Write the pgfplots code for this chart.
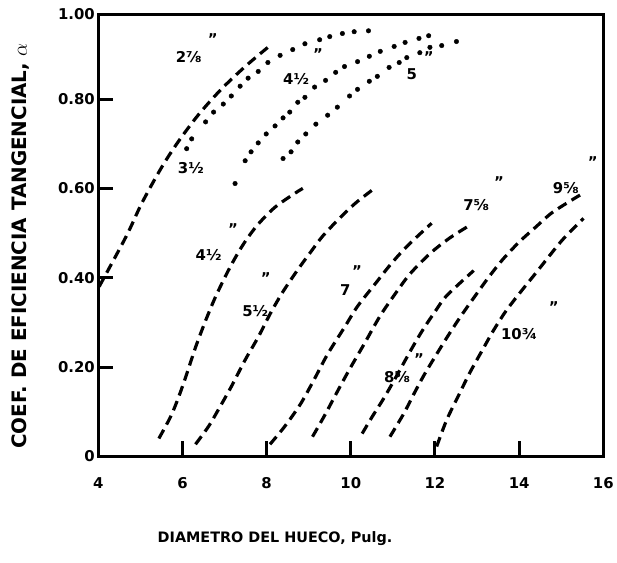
\documentclass[border=0pt]{standalone}
\usepackage{fontspec}
\setmainfont{DejaVu Sans}
\usepackage{pgfplots}
\pgfplotsset{compat=1.18}

\pgfplotsset{
  curva/.style={black, line width=3.2pt, dash pattern=on 10pt off 6pt, smooth, no marks},
  puntos/.style={black, only marks, mark=*, mark size=2.3pt},
}

\begin{document}
\begin{tikzpicture}
\begin{axis}[
  scale only axis, width=509pt, height=445.5pt,
  xmin=4, xmax=16, ymin=0, ymax=0.99,
  clip=false,
  axis line style={line width=3.5pt},
  xtick={4,6,...,16},
  ytick={0,0.2,0.4,0.6,0.8,0.99},
  yticklabels={0,0.20,0.40,0.60,0.80,1.00},
  xtick pos=bottom, ytick pos=left,
  tick align=inside,
  major tick length=15pt,
  tick style={line width=3pt, black},
  /pgf/number format/assume math mode=true,
  every tick label/.append style={font=\fontsize{15}{17}\selectfont\bfseries},
  xticklabel style={yshift=-18pt},
  xlabel={DIAMETRO DEL HUECO, Pulg.},
  xlabel style={at={(axis description cs:0.35,0)}, anchor=north, yshift=-72pt,
    font=\fontsize{14.5}{16}\selectfont\bfseries},
  ylabel={COEF. DE EFICIENCIA TANGENCIAL, $\alpha$},
  ylabel style={at={(axis description cs:0,0.476)}, anchor=center, yshift=78pt,
    font=\fontsize{20}{22}\selectfont\bfseries},
]
% espacio total de la figura
\path[draw=none] (axis cs:1.665,-0.238) rectangle (axis cs:16.217,1.022);

% 2 7/8 (trazos)
\addplot[curva] coordinates {(4.02,0.38) (4.66,0.492) (5.04,0.568) (5.51,0.648) (5.91,0.706)
  (6.38,0.765) (6.92,0.822) (7.49,0.873) (8.03,0.916)};

% 3 1/2 (puntos)
\addplot[puntos] coordinates {(6.10,0.689) (6.22,0.711) (6.55,0.749) (6.74,0.771) (6.97,0.789)
  (7.16,0.807) (7.37,0.829) (7.56,0.847) (7.80,0.862) (8.03,0.882) (8.32,0.898) (8.62,0.911)
  (8.91,0.924) (9.26,0.933) (9.50,0.940) (9.80,0.947) (10.08,0.951) (10.42,0.953)};

% 4 1/2 (puntos)
\addplot[puntos] coordinates {(7.25,0.611) (7.49,0.662) (7.63,0.682) (7.80,0.702) (7.99,0.722)
  (8.20,0.740) (8.39,0.758) (8.55,0.771) (8.74,0.793) (8.91,0.804) (9.14,0.827) (9.40,0.842)
  (9.64,0.860) (9.85,0.873) (10.16,0.884) (10.44,0.896) (10.70,0.907) (11.03,0.918)
  (11.29,0.927) (11.62,0.936) (11.85,0.942)};

% 5 (puntos)
\addplot[puntos] coordinates {(8.39,0.667) (8.58,0.682) (8.74,0.704) (8.93,0.722) (9.17,0.744)
  (9.45,0.764) (9.68,0.782) (9.97,0.807) (10.16,0.822) (10.44,0.840) (10.63,0.851)
  (10.91,0.871) (11.15,0.882) (11.33,0.893) (11.64,0.904) (11.88,0.916) (12.16,0.920)
  (12.51,0.929)};

% 4 1/2 (trazos)
\addplot[curva] coordinates {(5.44,0.040) (5.72,0.089) (5.91,0.133) (6.10,0.184) (6.31,0.244)
  (6.55,0.304) (6.78,0.356) (7.04,0.407) (7.28,0.449) (7.51,0.484) (7.80,0.520) (8.20,0.558)
  (8.67,0.589) (8.86,0.600)};

% 5 1/2
\addplot[curva] coordinates {(6.31,0.027) (6.62,0.067) (6.85,0.104) (7.16,0.156) (7.49,0.216)
  (7.80,0.267) (8.10,0.322) (8.39,0.369) (8.74,0.418) (9.05,0.458) (9.33,0.493) (9.73,0.533)
  (10.11,0.567) (10.56,0.600)};

% 7
\addplot[curva] coordinates {(8.08,0.027) (8.43,0.067) (8.81,0.118) (9.14,0.174) (9.45,0.229)
  (9.85,0.289) (10.16,0.336) (10.56,0.384) (10.93,0.428) (11.33,0.470) (11.92,0.522)};

% 7 5/8
\addplot[curva] coordinates {(9.09,0.044) (9.38,0.092) (9.68,0.145) (9.97,0.195) (10.32,0.252)
  (10.70,0.315) (11.10,0.370) (11.41,0.409) (11.88,0.454) (12.35,0.489) (12.87,0.520)};

% 8 5/8
\addplot[curva] coordinates {(10.27,0.051) (10.51,0.089) (10.79,0.131) (11.10,0.182)
  (11.41,0.235) (11.69,0.280) (12.00,0.324) (12.28,0.360) (12.92,0.416)};

% 9 5/8
\addplot[curva] coordinates {(10.93,0.044) (11.26,0.096) (11.50,0.140) (11.74,0.182)
  (12.04,0.229) (12.33,0.273) (12.63,0.316) (12.99,0.364) (13.29,0.403) (13.62,0.442)
  (14.00,0.480) (14.40,0.514) (14.80,0.547) (15.46,0.586)};

% 10 3/4
\addplot[curva] coordinates {(12.04,0.022) (12.28,0.082) (12.58,0.140) (12.82,0.186)
  (13.15,0.242) (13.39,0.282) (13.69,0.326) (14.05,0.370) (14.40,0.411) (14.71,0.448)
  (15.04,0.486) (15.53,0.533)};

% rotulos
\begin{scope}[every node/.style={font=\fontsize{15}{17}\selectfont\bfseries, inner sep=0pt}]
\node at (axis cs:6.15,0.895) {2⅞};
\node at (axis cs:6.20,0.645) {3½};
\node at (axis cs:8.70,0.845) {4½};
\node at (axis cs:11.45,0.855) {5};
\node at (axis cs:6.62,0.450) {4½};
\node at (axis cs:7.73,0.325) {5½};
\node at (axis cs:9.87,0.373) {7};
\node at (axis cs:12.98,0.562) {7⅝};
\node at (axis cs:11.10,0.178) {8⅝};
\node at (axis cs:15.11,0.600) {9⅝};
\node at (axis cs:14.00,0.273) {10¾};
\node at (axis cs:6.72,0.935) {"};
\node at (axis cs:9.22,0.900) {"};
\node at (axis cs:11.85,0.895) {"};
\node at (axis cs:7.20,0.510) {"};
\node at (axis cs:7.98,0.400) {"};
\node at (axis cs:10.15,0.415) {"};
\node at (axis cs:13.52,0.615) {"};
\node at (axis cs:11.62,0.218) {"};
\node at (axis cs:15.75,0.660) {"};
\node at (axis cs:14.82,0.335) {"};
\end{scope}
\end{axis}
\end{tikzpicture}
\end{document}
